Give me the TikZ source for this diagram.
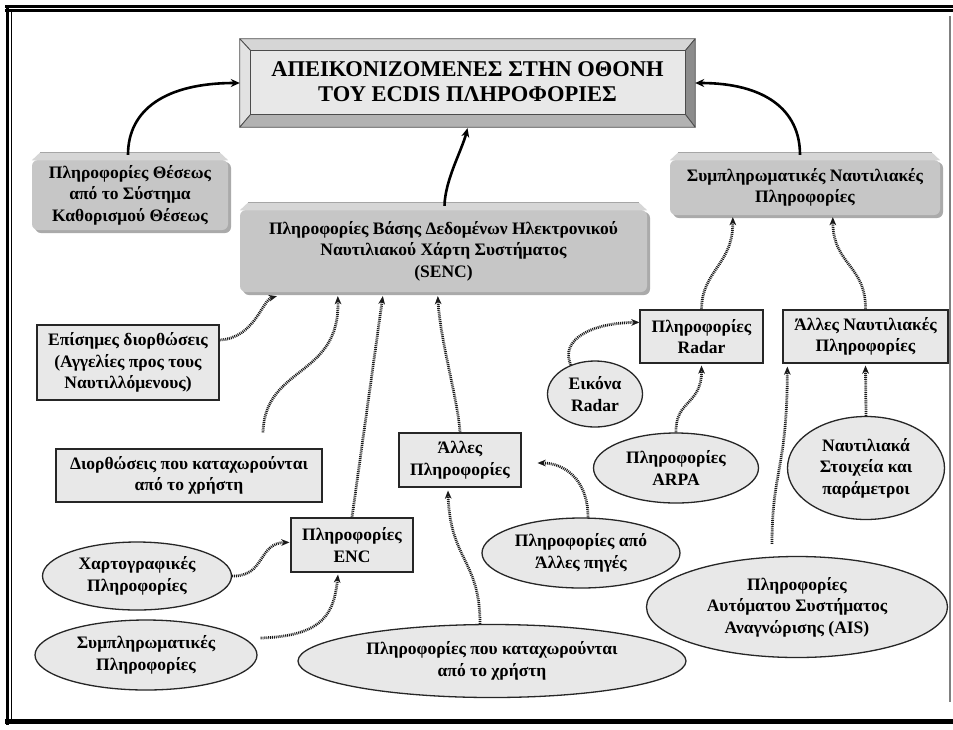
\documentclass[tikz,border=0pt]{standalone}
\usepackage{fontspec}
\setmainfont{Liberation Serif}[BoldFont={Liberation Serif Bold}]
\usetikzlibrary{shapes.geometric,arrows.meta,calc}

\definecolor{boxgray}{RGB}{232,232,232}
\definecolor{raisegray}{RGB}{198,198,198}
\definecolor{raisetop}{RGB}{214,214,214}
\definecolor{raiseshadow}{RGB}{170,170,170}

\tikzset{
  txt/.style={font=\fontsize{17.5}{21.5}\selectfont\bfseries, align=center, text=black, inner sep=0pt},
  plainbox/.style={txt, rectangle, draw=black!85, line width=1.3pt, fill=boxgray},
  oval/.style={txt, ellipse, draw=black!85, line width=1.3pt, fill=boxgray},
  raised/.style={txt, rectangle, rounded corners=6pt, fill=raisegray, draw=none},
  solidarrow/.style={line width=2.6pt, black, -{Stealth[length=9pt,width=8pt]}},
  hatch/.style={draw=black!90, line width=2.8pt, dash pattern=on 0.9pt off 1pt,
                preaction={draw=gray!60, solid}, -{Stealth[length=8pt,width=6.5pt]}},
  face/.style={draw=black!70, line width=0.8pt, line join=round}
}

% lighter slanted top face of a raised box
\newcommand{\raisedface}[1]{%
  \fill[raisetop] ($(#1.north west)+(0,0.5)$) -- ($(#1.north west)+(8,-7)$) --
    ($(#1.north east)+(-8,-7)$) -- ($(#1.north east)+(0,0.5)$) -- cycle;
  \draw[gray!70, line width=0.8pt] ($(#1.north west)+(8,-7)$) -- ($(#1.north east)+(-8,-7)$);
}

\begin{document}
\begin{tikzpicture}[x=1pt,y=-1pt]
\useasboundingbox (0,0) rectangle (953,729);
\fill[white] (0,0) rectangle (953,729);

% outer frame
\draw[line width=2.6pt] (5,6.3) -- (953,6.3);
\draw[line width=3pt] (5,10.5) -- (953,10.5);
\draw[line width=3.5pt] (7.5,5) -- (7.5,725);
\draw[line width=1.2pt] (11.5,10) -- (11.5,720);
\draw[line width=5pt] (5,721.5) -- (953,721.5);
\draw[gray, line width=1.2pt] (950,16) -- (950,702);

% title with bevelled frame
\node[txt, minimum width=455pt, minimum height=88pt] (title) at (467.5,83) {};
\coordinate (tnw) at ($(title.north west)+(11,12)$);
\coordinate (tne) at ($(title.north east)+(-10,12)$);
\coordinate (tse) at ($(title.south east)+(-10,-13)$);
\coordinate (tsw) at ($(title.south west)+(11,-13)$);
\filldraw[face, fill={rgb,255:red,214;green,214;blue,214}] (title.north west) -- (title.north east) -- (tne) -- (tnw) -- cycle;
\filldraw[face, fill={rgb,255:red,226;green,226;blue,226}] (title.north west) -- (tnw) -- (tsw) -- (title.south west) -- cycle;
\filldraw[face, fill={rgb,255:red,140;green,140;blue,140}] (title.north east) -- (title.south east) -- (tse) -- (tne) -- cycle;
\filldraw[face, fill={rgb,255:red,178;green,178;blue,178}] (title.south west) -- (tsw) -- (tse) -- (title.south east) -- cycle;
\filldraw[face, fill=boxgray] (tnw) rectangle (tse);
\node[txt, font=\fontsize{22.5}{25}\selectfont\bfseries] at ($(title.center)+(0,-1)$)
  {ΑΠΕΙΚΟΝΙΖΟΜΕΝΕΣ ΣΤΗΝ ΟΘΟΝΗ\\ΤΟΥ ECDIS ΠΛΗΡΟΦΟΡΙΕΣ};

% raised grey boxes
\fill[raiseshadow, rounded corners=6pt] (35,162) rectangle (231,233);
\node[raised, minimum width=196pt, minimum height=70pt] (pos) at (130,195)
  {Πληροφορίες Θέσεως\\από το Σύστημα\\Καθορισμού Θέσεως};
\raisedface{pos}
\fill[raiseshadow, rounded corners=6pt] (243,212) rectangle (650,295);
\node[raised, minimum width=407pt, minimum height=82pt] (senc) at (443.5,251)
  {Πληροφορίες Βάσης Δεδομένων Ηλεκτρονικού\\Ναυτιλιακού Χάρτη Συστήματος\\(SENC)};
\raisedface{senc}
\fill[raiseshadow, rounded corners=6pt] (673,162) rectangle (943,218);
\node[raised, minimum width=270pt, minimum height=55pt] (supnav) at (805,187.5)
  {Συμπληρωματικές Ναυτιλιακές\\Πληροφορίες};
\raisedface{supnav}

% rectangular boxes
\node[plainbox, minimum width=182pt, minimum height=75pt] (off) at (128,362.5)
  {Επίσημες διορθώσεις\\(Αγγελίες προς τους\\Ναυτιλλόμενους)};
\node[plainbox, minimum width=266pt, minimum height=53pt] (usercorr) at (189,475.5)
  {Διορθώσεις που καταχωρούνται\\από το χρήστη};
\node[plainbox, minimum width=122pt, minimum height=54pt] (enc) at (352,545)
  {Πληροφορίες\\ENC};
\node[plainbox, minimum width=122pt, minimum height=54pt] (other) at (460,460)
  {Άλλες\\Πληροφορίες};
\node[plainbox, minimum width=123pt, minimum height=53pt] (radar) at (701.5,336.5)
  {Πληροφορίες\\Radar};
\node[plainbox, minimum width=165pt, minimum height=53pt] (othernav) at (865.5,336.5)
  {Άλλες Ναυτιλιακές\\Πληροφορίες};

% elliptical sources
\node[oval, minimum width=95pt, minimum height=66pt] (radimg) at (595,394) {Εικόνα\\Radar};
\node[oval, minimum width=165pt, minimum height=70pt] (arpa) at (676,468) {Πληροφορίες\\ARPA};
\node[oval, minimum width=157pt, minimum height=103pt] (navdata) at (866,468)
  {Ναυτιλιακά\\Στοιχεία και\\παράμετροι};
\node[oval, minimum width=301pt, minimum height=101pt] (ais) at (797,607)
  {Πληροφορίες\\Αυτόματου Συστήματος\\Αναγνώρισης (AIS)};
\node[oval, minimum width=198pt, minimum height=70pt] (othsrc) at (581,553)
  {Πληροφορίες από\\Άλλες πηγές};
\node[oval, minimum width=388pt, minimum height=73pt] (userinfo) at (492,661)
  {Πληροφορίες που καταχωρούνται\\από το χρήστη};
\node[oval, minimum width=189pt, minimum height=68pt] (carto) at (137,576)
  {Χαρτογραφικές\\Πληροφορίες};
\node[oval, minimum width=222pt, minimum height=70pt] (suppl) at (146,655)
  {Συμπληρωματικές\\Πληροφορίες};

% free ends of connectors
\coordinate (ucstart) at ($(usercorr.north)+(74,-16)$);
\coordinate (aisstart) at ($(ais.north)+(-25,-12)$);
\coordinate (supstart) at ($(suppl.east)+(3,-17)$);

% solid connectors into the title
\draw[solidarrow] ($(pos.north)+(-2,-5)$) .. controls (128,110) and (165,83) .. (title.west);
\draw[solidarrow] ($(supnav.north)+(-5,-5)$) .. controls (800,110) and (765,83) .. (title.east);
\draw[solidarrow] ($(senc.north)+(1,-4)$) .. controls (445,180) and (462,150) .. ($(title.south)+(0,1)$);

% hatched connectors into SENC
\draw[hatch] (off.east |- 0,340) .. controls (255,338) and (262,300) .. ($(senc.south west)+(37,4)$);
\draw[hatch] (ucstart) .. controls (265,365) and (340,378) .. ($(senc.south west)+(98,4)$);
\draw[hatch] (enc.north) -- ($(senc.south west)+(143,4)$);
\draw[hatch] (other.north) .. controls (458,400) and (440,340) .. ($(senc.south west)+(198,4)$);

% hatched connectors of the lower left
\draw[hatch] (carto.east) .. controls (265,577) and (258,543) .. ($(enc.north west)+(-1,25)$);
\draw[hatch] (supstart) .. controls (325,636) and (334,612) .. ($(enc.south)+(-14,2)$);
\draw[hatch] ($(userinfo.north)+(-12,0)$) .. controls (480,560) and (450,560) .. ($(other.south)+(-12,3)$);
\draw[hatch] ($(othsrc.north)+(7,0)$) .. controls (588,480) and (565,463) .. ($(other.east)+(16,3)$);

% hatched connectors of the right side
\draw[hatch] (radimg.130) .. controls (560,340) and (590,323) .. ($(radar.north west)+(0,13)$);
\draw[hatch] (arpa.north) .. controls (675,400) and (702,405) .. ($(radar.south)+(0,2)$);
\draw[hatch] (radar.north) .. controls (702,270) and (733,265) .. ($(supnav.south west)+(63,2)$);
\draw[hatch] (othernav.north) .. controls (866,265) and (833,265) .. ($(supnav.south west)+(163,2)$);
\draw[hatch] (navdata.north) -- ($(othernav.south)+(0,2)$);
\draw[hatch] (aisstart) .. controls (772,470) and (787,470) .. ($(othernav.south west)+(5,3)$);
\end{tikzpicture}
\end{document}
